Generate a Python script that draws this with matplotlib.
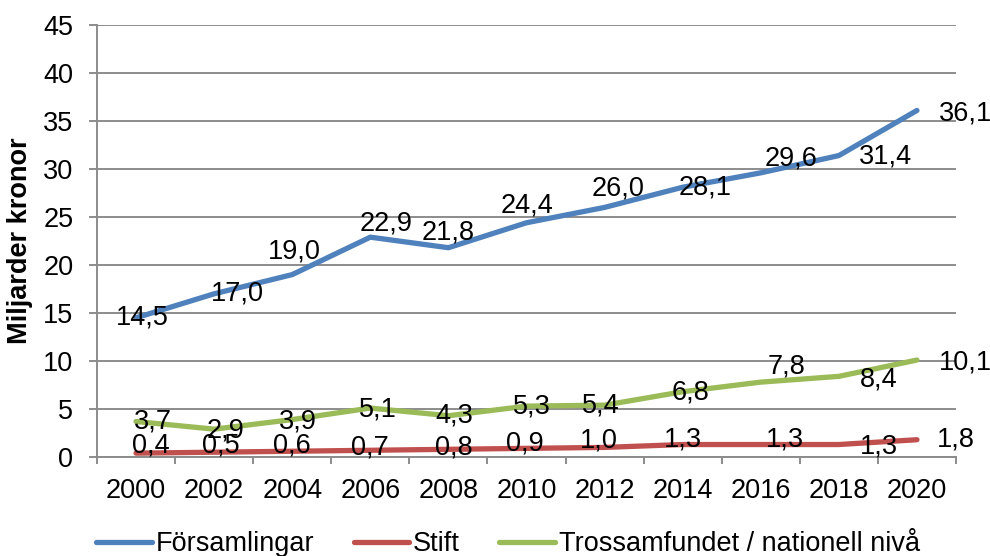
import numpy as np
import matplotlib
matplotlib.use("Agg")
import matplotlib.pyplot as plt

plt.rcParams['font.family'] = ['Liberation Sans', 'DejaVu Sans']

# Data (miljarder kronor)
years = ['2000', '2002', '2004', '2006', '2008', '2010', '2012', '2014', '2016', '2018', '2020']
forsamlingar = [14.5, 17.0, 19.0, 22.9, 21.8, 24.4, 26.0, 28.1, 29.6, 31.4, 36.1]
stift = [0.4, 0.5, 0.6, 0.7, 0.8, 0.9, 1.0, 1.3, 1.3, 1.3, 1.8]
trossamfundet = [3.7, 2.9, 3.9, 5.1, 4.3, 5.3, 5.4, 6.8, 7.8, 8.4, 10.1]

series_names = ['Församlingar', 'Stift', 'Trossamfundet / nationell nivå']
colors = ['#4F81BD', '#C0504D', '#9BBB59']

# label offsets from the data point, in pixels (dx right, dy down)
off_f = [(6, 0), (23, 0), (2, -23), (16, -14), (0, -15), (1, -17), (13, -19),
         (22, 0), (30, -14), (47, 1), (49, 3)]
off_s = [(15, -8), (7, -7), (0, -6), (0, -3), (5, -2), (-2, -5), (-6, -7),
         (0, -5), (24, -5), (40, 2), (39, 0)]
off_t = [(17, 0), (11, 1), (6, 2), (8, 1), (6, 0), (5, 0), (-4, 0),
         (8, 1), (26, -16), (40, 3), (48, 2)]

fs = 19.5
grid_col = '#8C8C8C'

fig = plt.figure(figsize=(9.9, 5.56), dpi=100)
ax = fig.add_axes([97 / 990, 1 - 457 / 556, (956 - 97) / 990, (457 - 25) / 556])

x = np.arange(len(years))
for vals, name, col, offs in zip([forsamlingar, stift, trossamfundet], series_names,
                                 colors, [off_f, off_s, off_t]):
    ax.plot(x, vals, color=col, lw=3.8, label=name,
            solid_capstyle='round', solid_joinstyle='round', zorder=3)
    for xi, v, (dx, dy) in zip(x, vals, offs):
        ax.annotate(f'{v:.1f}'.replace('.', ','), (xi, v),
                    xytext=(dx * 0.72, -dy * 0.72), textcoords='offset points',
                    ha='center', va='center', fontsize=fs, color='black',
                    zorder=4, annotation_clip=False)

ax.set_xlim(-0.5, len(years) - 0.5)
ax.set_ylim(0, 45)
ax.set_yticks(np.arange(0, 46, 5))
ax.set_xticks(x)
ax.set_xticklabels(years)
ax.set_xticks(np.arange(-0.5, len(years), 1), minor=True)

ax.grid(axis='y', color=grid_col, lw=1.4, zorder=0)
ax.set_axisbelow(True)
for s in ['top', 'right']:
    ax.spines[s].set_visible(False)
for s in ['left', 'bottom']:
    ax.spines[s].set_color(grid_col)
    ax.spines[s].set_linewidth(1.4)

ax.tick_params(axis='y', length=6, width=1.4, color=grid_col, pad=11, labelsize=fs)
ax.tick_params(axis='x', which='major', length=0, pad=15, labelsize=fs)
ax.tick_params(axis='x', which='minor', length=5, width=1.4, color=grid_col)

fig.text(20 / 990, 1 - 241 / 556, 'Miljarder kronor', rotation=90, ha='center',
         va='center', fontsize=fs, fontweight='bold')

fig.legend(loc='center', bbox_to_anchor=(508 / 990, 1 - 544 / 556), ncol=3,
           frameon=False, fontsize=fs, handlelength=2.05, handletextpad=0.15,
           columnspacing=1.45, borderpad=0, borderaxespad=0)

fig.savefig('out.png', dpi=100)
